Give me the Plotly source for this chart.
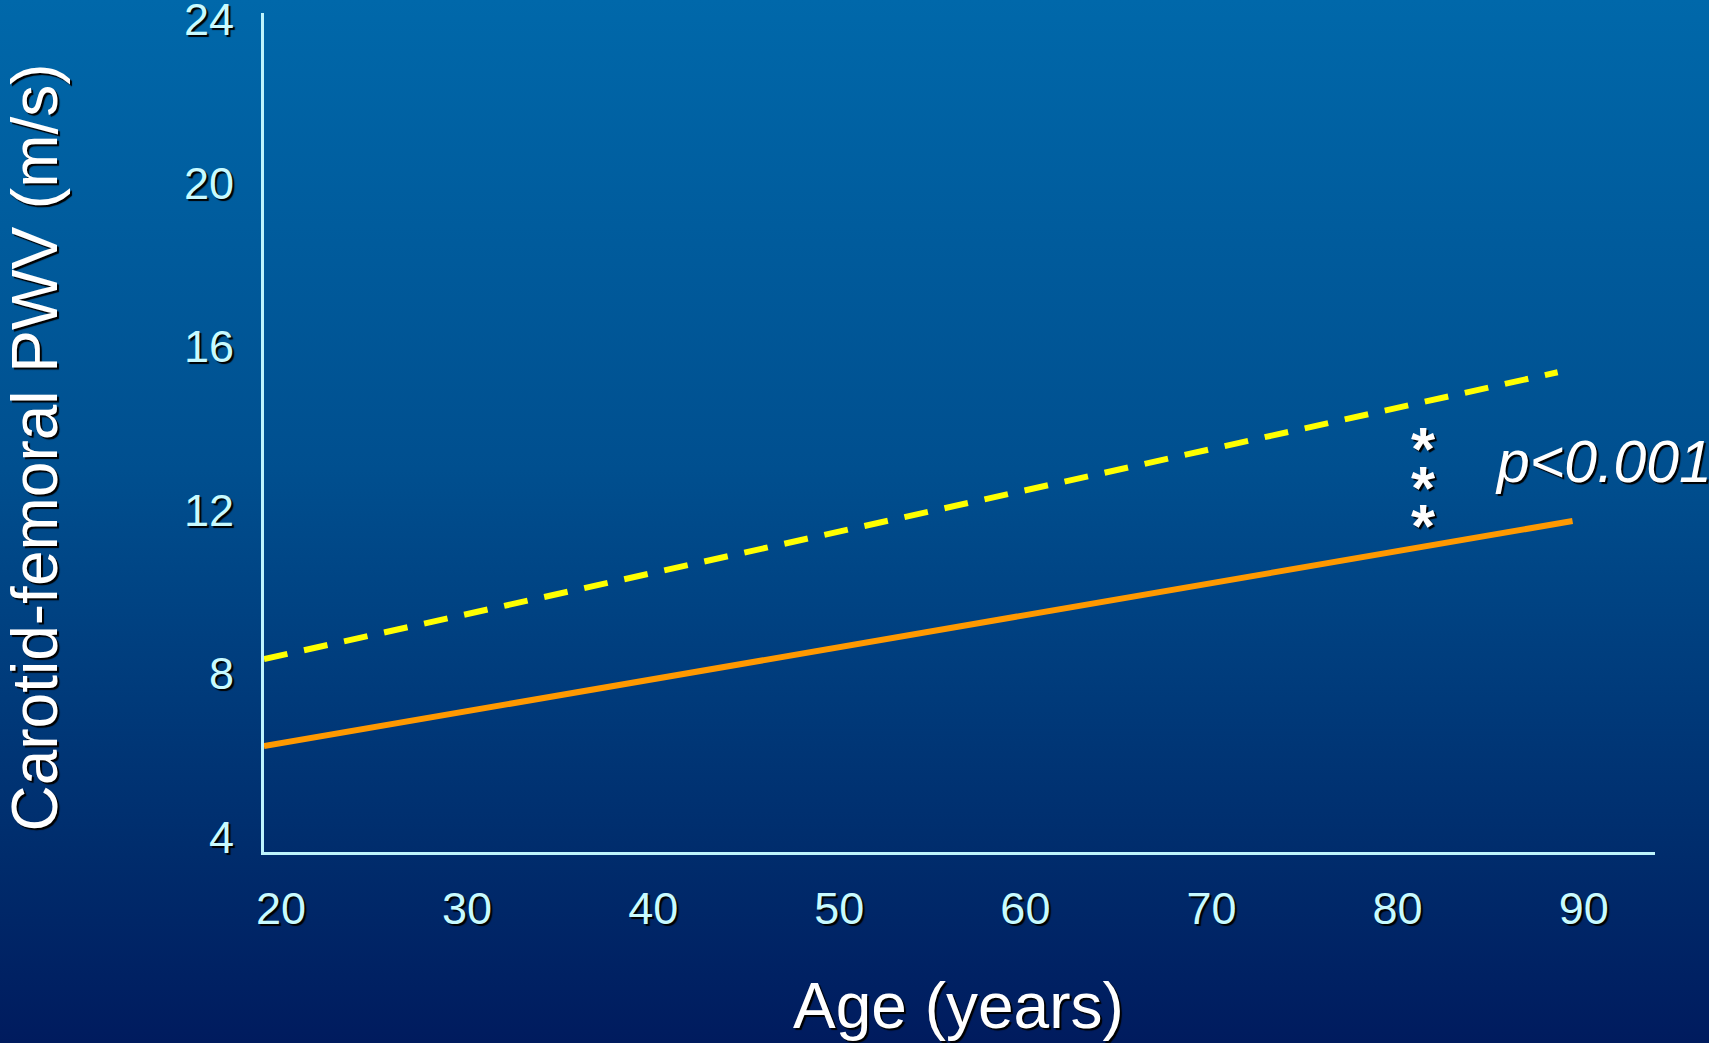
import base64
import plotly.graph_objects as go

# ---- data ----
age_range = [19.09, 93.83]
pwv_range = [3.63, 24.16]
x_ticks = [20, 30, 40, 50, 60, 70, 80, 90]
y_ticks = [4, 8, 12, 16, 20, 24]

dashed_age = [19.09, 88.6]
dashed_pwv = [8.35, 15.37]
solid_age = [19.09, 89.4]
solid_pwv = [6.22, 11.73]

x_title = "Age (years)"
y_title = "Carotid-femoral PWV (m/s)"
p_text = "p&lt;0.001"
stars = ["*", "*", "*"]

# ---- layout geometry ----
W, H = 1709, 1043
L, R, T, B = 264, 54, 13, 191
PW, PH = W - L - R, H - T - B


def px_x(p):
    return (p - L) / PW


def px_y(p):
    return (H - B - p) / PH


FONT = "Liberation Sans, Arial, Helvetica, sans-serif"
TICK_COLOR = "#C8FAFF"
AXIS_COLOR = "#BEF4FC"
SHADOW = "2px 2px 1px #000000"

svg = (
    f'<svg xmlns="http://www.w3.org/2000/svg" width="{W}" height="{H}" '
    f'viewBox="0 0 {W} {H}" preserveAspectRatio="none">'
    '<defs><linearGradient id="g" x1="0" y1="0" x2="0" y2="1">'
    '<stop offset="0" stop-color="#0068AA"/>'
    '<stop offset="0.45" stop-color="#004F8F"/>'
    '<stop offset="0.67" stop-color="#003A7A"/>'
    '<stop offset="0.82" stop-color="#002C6C"/>'
    '<stop offset="1" stop-color="#001B5E"/>'
    '</linearGradient></defs>'
    f'<rect width="{W}" height="{H}" fill="url(#g)"/></svg>'
)
bg_src = "data:image/svg+xml;base64," + base64.b64encode(svg.encode()).decode()

fig = go.Figure()
fig.add_trace(go.Scatter(
    x=dashed_age, y=dashed_pwv, mode="lines",
    line=dict(color="#FFFF00", width=6, dash="24px,17px"),
    hoverinfo="skip", showlegend=False,
))
fig.add_trace(go.Scatter(
    x=solid_age, y=solid_pwv, mode="lines",
    line=dict(color="#FF9900", width=6),
    hoverinfo="skip", showlegend=False,
))

annotations = [
    dict(text=y_title, textangle=-90, xref="paper", yref="paper",
         x=px_x(34), y=px_y(447.5), xanchor="center", yanchor="middle",
         showarrow=False,
         font=dict(family=FONT, size=64, color="#FFFFFF", shadow="-2px 2px 1px #000000")),
    dict(text=x_title, xref="paper", yref="paper",
         x=px_x(958.5), y=px_y(1005.5), xanchor="center", yanchor="middle",
         showarrow=False,
         font=dict(family=FONT, size=64, color="#FFFFFF", shadow=SHADOW)),
    dict(text=p_text, xref="paper", yref="paper",
         x=px_x(1493), y=px_y(462), xanchor="left", yanchor="middle",
         showarrow=False,
         font=dict(family=FONT, size=59, color="#FFFFFF", style="italic", shadow=SHADOW)),
]
for s, yp in zip(stars, [448.5, 487.5, 525.5]):
    annotations.append(dict(
        text=s, xref="paper", yref="paper", x=px_x(1423), y=px_y(yp),
        xanchor="center", yanchor="middle", showarrow=False,
        font=dict(family=FONT, size=62, color="#FFFFFF", weight="bold", shadow=SHADOW)))

fig.update_layout(
    width=W, height=H,
    margin=dict(l=L, r=R, t=T, b=B, pad=0, autoexpand=False),
    paper_bgcolor="#003A7A",
    plot_bgcolor="rgba(0,0,0,0)",
    showlegend=False,
    images=[dict(source=bg_src, xref="paper", yref="paper",
                 x=-L / PW, y=1 + T / PH, sizex=W / PW, sizey=H / PH,
                 xanchor="left", yanchor="top", sizing="stretch", layer="below")],
    annotations=annotations,
    xaxis=dict(range=age_range, tickvals=x_ticks, ticktext=[str(v) for v in x_ticks],
               showgrid=False, zeroline=False, showline=True, automargin=False,
               linecolor=AXIS_COLOR, linewidth=3, ticks="",
               ticklabelstandoff=15, ticklabeloverflow="allow",
               tickfont=dict(family=FONT, size=45, color=TICK_COLOR, shadow=SHADOW)),
    yaxis=dict(range=pwv_range, tickvals=y_ticks, ticktext=[str(v) for v in y_ticks],
               showgrid=False, zeroline=False, showline=True, automargin=False,
               linecolor=AXIS_COLOR, linewidth=3, ticks="",
               ticklabelstandoff=18, ticklabeloverflow="allow",
               tickfont=dict(family=FONT, size=45, color=TICK_COLOR, shadow=SHADOW)),
)

fig.write_html(
    "out.html",
    config={"displayModeBar": False},
    post_script="document.body.style.margin='0';document.body.style.padding='0';"
                "document.body.style.overflow='hidden';",
)
